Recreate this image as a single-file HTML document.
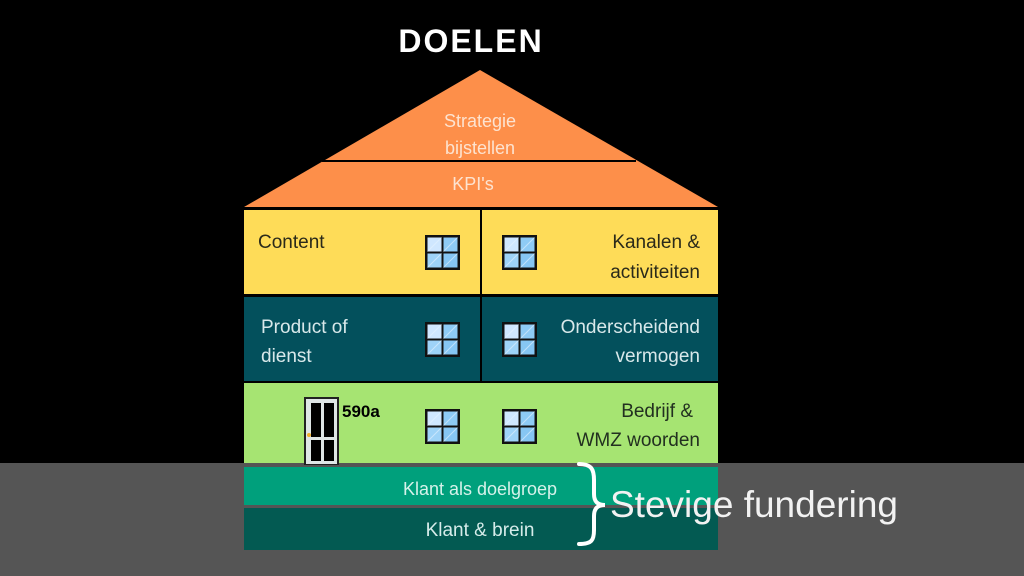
<!DOCTYPE html>
<html><head><meta charset="utf-8"><style>
html,body{margin:0;padding:0;background:#000;}
svg{display:block;}
text{font-family:"Liberation Sans","DejaVu Sans",sans-serif;}
</style></head><body>
<svg width="1024" height="576" viewBox="0 0 1024 576" xmlns="http://www.w3.org/2000/svg">
<defs>
<g id="win">
<rect x="0" y="0" width="35" height="35" fill="#111"/>
<rect x="2.5" y="2.5" width="14" height="14" fill="#cfe7ff"/>
<rect x="18.5" y="2.5" width="14" height="14" fill="#8ecbf5"/>
<rect x="2.5" y="18.5" width="14" height="14" fill="#9ed3f8"/>
<rect x="18.5" y="18.5" width="14" height="14" fill="#86c6f3"/>
<path d="M2.5 16.5 L16.5 2.5 M18.5 16.5 L32.5 2.5 M2.5 32.5 L16.5 18.5 M18.5 32.5 L32.5 18.5" stroke="#e6f3ff" stroke-width="1" opacity="0.6"/>
</g>
</defs>
<rect width="1024" height="576" fill="#000"/>
<rect x="0" y="463" width="1024" height="113" fill="#555555"/>
<text x="471" y="52" font-size="32" font-weight="bold" fill="#fff" text-anchor="middle" letter-spacing="2">DOELEN</text>
<polygon points="480,70 244,207 718,207" fill="#fd8f4a"/>
<line x1="322" y1="161" x2="636" y2="161" stroke="#000" stroke-width="2"/>
<text x="480" y="127" font-size="18" fill="#fde3d0" text-anchor="middle">Strategie</text>
<text x="480" y="154" font-size="18" fill="#fde3d0" text-anchor="middle">bijstellen</text>
<text x="473" y="190" font-size="18" fill="#fde3d0" text-anchor="middle">KPI's</text>
<rect x="244" y="210" width="474" height="84" fill="#fedc58"/>
<rect x="244" y="297" width="474" height="84" fill="#03505c"/>
<rect x="244" y="383" width="474" height="80" fill="#a6e472"/>
<line x1="481" y1="209" x2="481" y2="382" stroke="#000" stroke-width="2"/>
<rect x="244" y="467" width="474" height="38" fill="#00a07c"/>
<rect x="244" y="508" width="474" height="42" fill="#035a52"/>
<text x="258" y="248" font-size="19" fill="#2a2a1a">Content</text>
<text x="700" y="248" font-size="19" fill="#2a2a1a" text-anchor="end">Kanalen &amp;</text>
<text x="700" y="278" font-size="19" fill="#2a2a1a" text-anchor="end">activiteiten</text>
<text x="261" y="333" font-size="19" fill="#d8e8ea">Product of</text>
<text x="261" y="362" font-size="19" fill="#d8e8ea">dienst</text>
<text x="700" y="333" font-size="19" fill="#d8e8ea" text-anchor="end">Onderscheidend</text>
<text x="700" y="362" font-size="19" fill="#d8e8ea" text-anchor="end">vermogen</text>
<text x="693" y="417" font-size="19" fill="#223020" text-anchor="end">Bedrijf &amp;</text>
<text x="700" y="446" font-size="19" fill="#223020" text-anchor="end">WMZ woorden</text>
<text x="480" y="495" font-size="18" fill="#d6f2ea" text-anchor="middle">Klant als doelgroep</text>
<text x="480" y="536" font-size="19" fill="#d6ecea" text-anchor="middle">Klant &amp; brein</text>
<use href="#win" x="425" y="235"/>
<use href="#win" x="502" y="235"/>
<use href="#win" x="425" y="322"/>
<use href="#win" x="502" y="322"/>
<use href="#win" x="425" y="409"/>
<use href="#win" x="502" y="409"/>
<rect x="304" y="397" width="35" height="68" fill="#222"/>
<rect x="306" y="399" width="31" height="65" fill="#dfe6e6"/>
<rect x="311" y="403" width="10" height="34" fill="#000"/>
<rect x="324" y="403" width="10" height="34" fill="#000"/>
<rect x="311" y="440" width="10" height="21" fill="#000"/>
<rect x="324" y="440" width="10" height="21" fill="#000"/>
<circle cx="309" cy="435" r="2" fill="#f2b02a"/>
<text x="342" y="417" font-size="17" font-weight="bold" fill="#000">590a</text>
<path d="M579 464 C592 464 594 470 594 480 L594 494 C594 502 598 505 605 505 C598 505 594 508 594 516 L594 530 C594 540 592 544 579 544" fill="none" stroke="#fff" stroke-width="4" stroke-linecap="round"/>
<text x="610" y="517" font-size="37" fill="#f2f2f2">Stevige fundering</text>
</svg>
</body></html>
